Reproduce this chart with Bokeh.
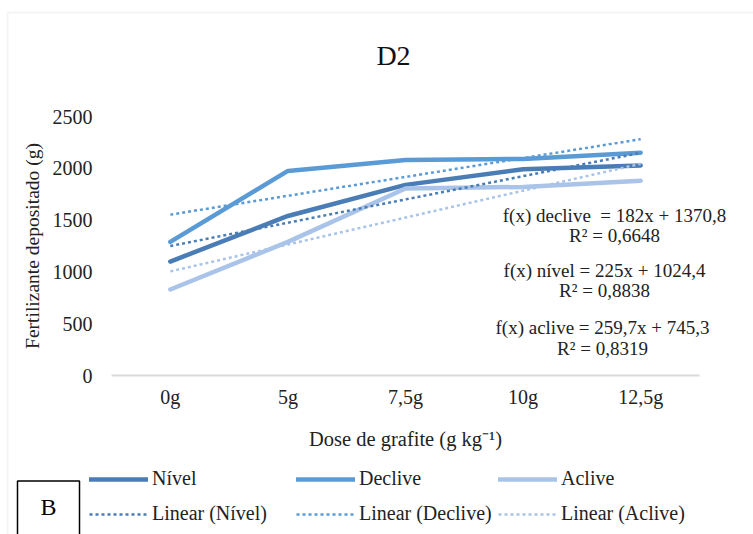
from bokeh.plotting import figure
from bokeh.models import (Range1d, Label, Legend, LegendItem, LinearAxis,
                          FixedTicker, BoxAnnotation)
from bokeh.embed import file_html
from bokeh.resources import INLINE

# ---- data ----
categories = ["0g", "5g", "7,5g", "10g", "12,5g"]
nivel = [1100, 1540, 1840, 1990, 2027]
declive = [1290, 1975, 2080, 2090, 2150]
aclive = [830, 1290, 1805, 1820, 1880]
y_ticks = [0, 500, 1000, 1500, 2000, 2500]
# linear trend coefficients (x = 1..5)
fit_nivel = (225.0, 1024.4)
fit_declive = (182.0, 1370.8)
fit_aclive = (259.7, 745.3)
eq_texts = [
    ("f(x) declive\u00a0 = 182x + 1370,8", "R² = 0,6648"),
    ("f(x) nível = 225x + 1024,4", "R² = 0,8838"),
    ("f(x) aclive = 259,7x + 745,3", "R² = 0,8319"),
]

xs = list(range(1, len(categories) + 1))

C_NIVEL = "#4a7db5"
C_DECLIVE = "#5b9bd5"
C_ACLIVE = "#a9c4e8"
FONT = "Liberation Serif"
TXT = "#222222"

# ---- geometry (pixels of the 753x534 canvas) ----
W, H = 753, 534
X_LEFT_PX = 111      # pixel of x = 0.5 (left edge of category area)
X_STEP_PX = 117.6    # pixels per category
Y_ZERO_PX = 375      # pixel of y = 0
Y_PX_PER_UNIT = 259 / 2500

def dx(px):
    return 0.5 + (px - X_LEFT_PX) / X_STEP_PX

def dy(py):
    return (Y_ZERO_PX - py) / Y_PX_PER_UNIT

p = figure(
    x_range=Range1d(dx(0), dx(W)),
    y_range=Range1d(dy(H), dy(0)),
    frame_width=W, frame_height=H,
    min_border=0,
    x_axis_location=None, y_axis_location=None,
    output_backend="svg", toolbar_location=None,
)
p.outline_line_color = None
p.grid.visible = False
p.background_fill_color = "white"
p.border_fill_color = "white"

# outer chart border
p.add_layout(BoxAnnotation(left=dx(7), top=dy(12), right=dx(W + 20), bottom=dy(H + 20),
                           fill_alpha=0, line_color="#d9d9d9", line_width=2))

# axes (fixed at the data origin of the category area)
yax = LinearAxis(fixed_location=0.5, ticker=FixedTicker(ticks=y_ticks),
                 bounds=(y_ticks[0], y_ticks[-1]))
yax.axis_line_color = None
yax.major_tick_line_color = None
yax.minor_tick_line_color = None
yax.major_tick_out = 0
yax.major_tick_in = 0
yax.major_label_standoff = 19
yax.major_label_text_font = FONT
yax.major_label_text_font_size = "20px"
yax.major_label_text_color = TXT
yax.axis_label = "Fertilizante depositado (g)"
yax.axis_label_text_font = FONT
yax.axis_label_text_font_size = "19.5px"
yax.axis_label_text_font_style = "normal"
yax.axis_label_text_color = TXT
yax.axis_label_standoff = 7
p.add_layout(yax, "left")

xax = LinearAxis(fixed_location=0, ticker=FixedTicker(ticks=xs), bounds=(0.5, len(xs) + 0.5))
xax.major_label_overrides = {x: c for x, c in zip(xs, categories)}
xax.axis_line_color = "#d9d9d9"
xax.axis_line_width = 2
xax.major_tick_line_color = None
xax.minor_tick_line_color = None
xax.major_tick_out = 0
xax.major_tick_in = 0
xax.major_label_standoff = 10
xax.major_label_text_font = FONT
xax.major_label_text_font_size = "20px"
xax.major_label_text_color = TXT
xax.axis_label = "Dose de grafite (g kg⁻¹)"
xax.axis_label_text_font = FONT
xax.axis_label_text_font_size = "20.5px"
xax.axis_label_text_font_style = "normal"
xax.axis_label_text_color = TXT
xax.axis_label_standoff = 17
p.add_layout(xax, "below")

# series lines
r_n = p.line(xs, nivel, line_color=C_NIVEL, line_width=4.5, line_cap="round")
r_d = p.line(xs, declive, line_color=C_DECLIVE, line_width=4.5, line_cap="round")
r_a = p.line(xs, aclive, line_color=C_ACLIVE, line_width=4.5, line_cap="round")

# trend lines
def trend(fit):
    m, b = fit
    return [m * x + b for x in xs]

dash = "3 3"
t_n = p.line(xs, trend(fit_nivel), line_color=C_NIVEL, line_width=2.5, line_dash=dash)
t_d = p.line(xs, trend(fit_declive), line_color=C_DECLIVE, line_width=2.5, line_dash=dash)
t_a = p.line(xs, trend(fit_aclive), line_color=C_ACLIVE, line_width=2.5, line_dash=dash)

# title
p.add_layout(Label(x=dx(393), y=dy(55), text="D2", text_font=FONT, text_font_size="28px",
                   text_color="#111111", text_align="center", text_baseline="middle"))

# equations
eq_pos = [(614, 215, 235), (604, 270, 290), (602, 327, 348)]
for (l1, l2), (cx, y1, y2) in zip(eq_texts, eq_pos):
    for t, yy in ((l1, y1), (l2, y2)):
        p.add_layout(Label(x=dx(cx), y=dy(yy), text=t, text_font=FONT, text_font_size="19px",
                           text_color=TXT, text_align="center", text_baseline="middle"))

# "B" panel label
p.add_layout(Label(x=dx(48), y=dy(515), text="B", text_font=FONT, text_font_size="24px",
                   text_color="#000000", text_align="center", text_baseline="middle",
                   border_line_color="black", border_line_width=1.5,
                   background_fill_color="white",
                   padding=dict(left=23, right=23, top=13, bottom=30)))

# legends: three columns of two rows
cols = [
    [("Nível", r_n), ("Linear (Nível)", t_n)],
    [("Declive", r_d), ("Linear (Declive)", t_d)],
    [("Aclive", r_a), ("Linear (Aclive)", t_a)],
]
col_x = [89, 296, 498]
for items, cx in zip(cols, col_x):
    lg = Legend(
        items=[LegendItem(label=lab, renderers=[r]) for lab, r in items],
        location=(cx, H - 525),
        orientation="vertical",
        glyph_width=59, glyph_height=20, label_height=20,
        label_standoff=4, spacing=12, padding=0, margin=0,
        border_line_color=None, background_fill_alpha=0,
        label_text_font=FONT, label_text_font_size="20px", label_text_color=TXT,
    )
    p.add_layout(lg, "center")

open("out.html", "w").write(file_html(p, INLINE))
